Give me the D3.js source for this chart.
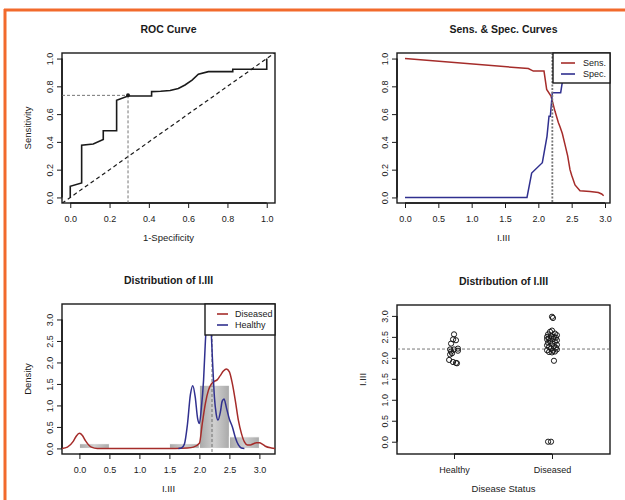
<!DOCTYPE html>
<html>
<head>
<meta charset="utf-8">
<script src="https://cdn.jsdelivr.net/npm/d3@7"></script>
<style>
body { margin: 0; background: #fff; }
svg { display: block; font-family: "Liberation Sans", Arial, sans-serif; }
</style>
</head>
<body>
<div id="chart"></div>
<script>
// ---- data ----
var rocFpr = [0, 0, 0.058, 0.058, 0.117, 0.168, 0.168, 0.236, 0.236, 0.294, 0.414, 0.414, 0.46, 0.508, 0.55, 0.584, 0.62, 0.652, 0.703, 0.827, 0.827, 1.0, 1.0];
var rocTpr = [0, 0.08, 0.104, 0.376, 0.385, 0.417, 0.48, 0.48, 0.70, 0.73, 0.73, 0.762, 0.765, 0.77, 0.785, 0.81, 0.845, 0.887, 0.906, 0.906, 0.923, 0.923, 1.0];
var cutFpr = 0.294, cutTpr = 0.735;
var cutoff = 2.21;

var sensX = [0, 1.85, 1.925, 2.085, 2.125, 2.19, 2.25, 2.3, 2.325, 2.36, 2.4, 2.44, 2.475, 2.5, 2.55, 2.625, 2.775, 2.9, 2.95, 2.98];
var sensY = [1.0, 0.928, 0.91, 0.91, 0.778, 0.73, 0.62, 0.54, 0.509, 0.46, 0.38, 0.3, 0.2, 0.16, 0.09, 0.048, 0.043, 0.036, 0.025, 0.012];
var specX = [0, 1.83, 1.9, 2.06, 2.13, 2.16, 2.18, 2.21, 2.335, 2.36, 2.45, 2.6, 2.75, 3.0];
var specY = [0, 0, 0.176, 0.25, 0.44, 0.585, 0.585, 0.754, 0.754, 0.83, 0.88, 0.94, 1.0, 1.0];

var binEdges = [0, 0.5, 1, 1.5, 2, 2.5, 3];
var binDensity = [0.11, 0, 0, 0.11, 1.47, 0.27];

var disDensX = [-0.29, -0.2, -0.1, -0.05, 0, 0.05, 0.1, 0.2, 0.3, 1.6, 1.8, 1.9, 2.0, 2.05, 2.1, 2.15, 2.2, 2.25, 2.3, 2.35, 2.4, 2.45, 2.5, 2.55, 2.6, 2.65, 2.7, 2.75, 2.8, 2.85, 2.9, 2.95, 3.0, 3.05, 3.1, 3.2, 3.26];
var disDensY = [0.0, 0.03, 0.17, 0.29, 0.35, 0.3, 0.18, 0.03, 0.0, 0.0, 0.01, 0.03, 0.12, 0.6, 1.05, 1.35, 1.5, 1.56, 1.6, 1.7, 1.8, 1.85, 1.78, 1.5, 1.1, 0.65, 0.35, 0.15, 0.08, 0.08, 0.11, 0.13, 0.13, 0.1, 0.05, 0.01, 0.0];
var healDensX = [1.65, 1.7, 1.75, 1.8, 1.85, 1.89, 1.93, 1.97, 2.0, 2.03, 2.07, 2.1, 2.13, 2.16, 2.19, 2.22, 2.25, 2.28, 2.31, 2.35, 2.38, 2.41, 2.45, 2.5, 2.55, 2.6, 2.65, 2.7, 2.75];
var healDensY = [0, 0.01, 0.1, 0.55, 1.25, 1.46, 1.2, 0.7, 0.58, 0.9, 1.6, 2.5, 3.1, 3.3, 2.9, 2.0, 1.2, 0.8, 0.66, 0.85, 1.1, 1.15, 0.95, 0.68, 0.5, 0.25, 0.08, 0.01, 0];

var groups = ["Healthy", "Diseased"];
var healthyVals = [2.56, 2.44, 2.42, 2.34, 2.22, 2.2, 2.2, 2.17, 2.15, 2.11, 2.08, 1.95, 1.9, 1.88, 1.87];
var healthyJit = [0.0, -0.01, 0.02, -0.03, 0.04, -0.04, 0.0, 0.04, -0.03, -0.02, -0.04, -0.05, -0.01, 0.02, 0.03];
var diseasedVals = [2.98, 2.95, 2.65, 2.62, 2.58, 2.56, 2.54, 2.52, 2.5, 2.5, 2.48, 2.47, 2.45, 2.44, 2.42, 2.4, 2.38, 2.36, 2.34, 2.31, 2.3, 2.28, 2.26, 2.24, 2.22, 2.2, 2.18, 2.17, 2.15, 2.14, 2.13, 1.93, 0.0, 0.0];
var diseasedJit = [0.0, 0.01, 0.0, -0.02, 0.03, -0.04, 0.05, -0.01, -0.05, 0.02, 0.04, -0.03, 0.01, -0.05, 0.05, -0.02, 0.03, -0.04, 0.0, 0.05, -0.05, 0.02, -0.03, 0.04, -0.01, 0.05, -0.05, 0.01, 0.03, -0.03, 0.0, 0.02, -0.04, -0.01];

var ticksProb = [0, 0.2, 0.4, 0.6, 0.8, 1.0];
var ticksVal = [0, 0.5, 1, 1.5, 2, 2.5, 3];

var red = "#a52c2a", blue = "#30308f", ink = "#1a1a1a";

var svg = d3.select("#chart").append("svg")
    .attr("width", 625)
    .attr("height", 500);

// orange frame
svg.append("line").attr("x1", 4).attr("x2", 625).attr("y1", 10).attr("y2", 10)
    .attr("stroke", "#f26a2c").attr("stroke-width", 3);
svg.append("line").attr("x1", 5).attr("x2", 5).attr("y1", 9).attr("y2", 500)
    .attr("stroke", "#f26a2c").attr("stroke-width", 3);

var fmt1 = d3.format(".1f");

// base-R style frame, returns scales
function panel(id, box, xDom, yDom, xTicks, yTicks, xFmt, title, xLab, yLab) {
    var x = d3.scaleLinear().domain(xDom).range([box.l, box.r]);
    var y = d3.scaleLinear().domain(yDom).range([box.b, box.t]);
    var g = svg.append("g");

    svg.append("clipPath").attr("id", id)
        .append("rect").attr("x", box.l).attr("y", box.t)
        .attr("width", box.r - box.l).attr("height", box.b - box.t);

    var xa = g.append("g").attr("transform", "translate(0," + box.b + ")")
        .call(d3.axisBottom(x).tickValues(xTicks).tickFormat(xFmt).tickSize(5).tickPadding(7.5));
    xa.select(".domain").remove();
    xa.append("line").attr("x1", x(xTicks[0])).attr("x2", x(xTicks[xTicks.length - 1]))
        .attr("stroke", ink).attr("stroke-width", 1.6);

    var ya = g.append("g").attr("transform", "translate(" + box.l + ",0)")
        .call(d3.axisLeft(y).tickValues(yTicks).tickFormat(fmt1).tickSize(5));
    ya.select(".domain").remove();
    ya.append("line").attr("y1", y(yTicks[0])).attr("y2", y(yTicks[yTicks.length - 1]))
        .attr("stroke", ink).attr("stroke-width", 1.6);
    ya.selectAll(".tick text")
        .attr("transform", "rotate(-90)")
        .attr("x", 0).attr("y", -9).attr("dy", 0)
        .style("text-anchor", "middle");

    g.selectAll(".tick line").attr("stroke", ink).attr("stroke-width", 1);
    g.selectAll(".tick text").attr("fill", ink).style("font-size", "9px")
        .style("font-family", "Liberation Sans, Arial, sans-serif");

    g.append("rect").attr("x", box.l).attr("y", box.t)
        .attr("width", box.r - box.l).attr("height", box.b - box.t)
        .attr("fill", "none").attr("stroke", ink).attr("stroke-width", 1.4);

    g.append("text").attr("x", (box.l + box.r) / 2).attr("y", box.t - 20)
        .attr("text-anchor", "middle").style("font-size", "10.5px").style("font-weight", "bold")
        .attr("fill", ink).text(title);
    g.append("text").attr("x", (box.l + box.r) / 2).attr("y", box.b + 38)
        .attr("text-anchor", "middle").style("font-size", "9.5px")
        .attr("fill", ink).text(xLab);
    g.append("text")
        .attr("transform", "translate(" + (box.l - 31) + "," + ((box.t + box.b) / 2) + ") rotate(-90)")
        .attr("text-anchor", "middle").style("font-size", "9.5px")
        .attr("fill", ink).text(yLab);

    return { x: x, y: y, box: box, clip: "url(#" + id + ")" };
}

// legend box: seg = [line start, line end, text start] offsets from left edge
function legend(box, seg, labels, colors) {
    var lg = svg.append("g");
    lg.append("rect").attr("x", box.l).attr("y", box.t)
        .attr("width", box.r - box.l).attr("height", box.b - box.t)
        .attr("fill", "#fff").attr("stroke", ink).attr("stroke-width", 1.4);
    labels.forEach(function (lab, i) {
        var yy = box.t + 10 + i * 11;
        lg.append("line").attr("x1", box.l + seg[0]).attr("x2", box.l + seg[1])
            .attr("y1", yy).attr("y2", yy)
            .attr("stroke", colors[i]).attr("stroke-width", 1.6);
        lg.append("text").attr("x", box.l + seg[2]).attr("y", yy + 3.3)
            .style("font-size", "9px").attr("fill", ink).text(lab);
    });
}

// ---- 1: ROC curve ----
var p1 = panel("c1", { l: 62, r: 275, t: 53, b: 203 }, [-0.042, 1.042], [-0.04, 1.04],
    ticksProb, ticksProb, fmt1, "ROC Curve", "1-Specificity", "Sensitivity");
var c1 = svg.append("g").attr("clip-path", p1.clip);
c1.append("line")
    .attr("x1", p1.x(-0.1)).attr("y1", p1.y(-0.1)).attr("x2", p1.x(1.1)).attr("y2", p1.y(1.1))
    .attr("stroke", ink).attr("stroke-width", 1.2).attr("stroke-dasharray", "4,3");
c1.append("line")
    .attr("x1", p1.box.l).attr("x2", p1.x(cutFpr)).attr("y1", p1.y(cutTpr)).attr("y2", p1.y(cutTpr))
    .attr("stroke", "#666").attr("stroke-width", 0.9).attr("stroke-dasharray", "3,2");
c1.append("line")
    .attr("x1", p1.x(cutFpr)).attr("x2", p1.x(cutFpr)).attr("y1", p1.y(cutTpr)).attr("y2", p1.box.b)
    .attr("stroke", "#666").attr("stroke-width", 0.9).attr("stroke-dasharray", "3,2");
c1.append("path")
    .datum(d3.range(rocFpr.length))
    .attr("fill", "none").attr("stroke", ink).attr("stroke-width", 1.6)
    .attr("d", d3.line().x(function (i) { return p1.x(rocFpr[i]); }).y(function (i) { return p1.y(rocTpr[i]); }));
c1.append("circle").attr("cx", p1.x(cutFpr)).attr("cy", p1.y(cutTpr)).attr("r", 2)
    .attr("fill", ink);

// ---- 2: sensitivity & specificity ----
var p2 = panel("c2", { l: 397, r: 610, t: 53, b: 203 }, [-0.12, 3.075], [-0.04, 1.04],
    ticksVal, ticksProb, fmt1, "Sens. & Spec. Curves", "I.III", "");
var c2 = svg.append("g").attr("clip-path", p2.clip);
c2.append("path")
    .datum(d3.range(sensX.length))
    .attr("fill", "none").attr("stroke", red).attr("stroke-width", 1.5)
    .attr("d", d3.line().x(function (i) { return p2.x(sensX[i]); }).y(function (i) { return p2.y(sensY[i]); }));
c2.append("path")
    .datum(d3.range(specX.length))
    .attr("fill", "none").attr("stroke", blue).attr("stroke-width", 1.5)
    .attr("d", d3.line().x(function (i) { return p2.x(specX[i]); }).y(function (i) { return p2.y(specY[i]); }));
c2.append("line")
    .attr("x1", p2.x(cutoff)).attr("x2", p2.x(cutoff)).attr("y1", p2.box.t).attr("y2", p2.box.b)
    .attr("stroke", "#777").attr("stroke-width", 1.8).attr("stroke-dasharray", "2,1.5");
legend({ l: 553, r: 610, t: 53, b: 83 }, [8, 22, 30], ["Sens.", "Spec."], [red, blue]);

// ---- 3: density ----
var p3 = panel("c3", { l: 62, r: 275, t: 304, b: 454 }, [-0.29, 3.26], [-0.13, 3.36],
    ticksVal, ticksVal, fmt1, "Distribution of I.III", "I.III", "Density");
var c3 = svg.append("g").attr("clip-path", p3.clip);
var grad = svg.append("defs").append("linearGradient").attr("id", "bargrad")
    .attr("x1", 0).attr("x2", 1).attr("y1", 0).attr("y2", 0);
grad.append("stop").attr("offset", "0%").attr("stop-color", "#a9a9a9");
grad.append("stop").attr("offset", "50%").attr("stop-color", "#cfcfcf");
grad.append("stop").attr("offset", "100%").attr("stop-color", "#a9a9a9");
c3.selectAll(".bin")
    .data(d3.range(binDensity.length).filter(function (i) { return binDensity[i] > 0; }))
    .enter().append("rect")
    .attr("class", "bin")
    .attr("x", function (i) { return p3.x(binEdges[i]); })
    .attr("width", function (i) { return p3.x(binEdges[i + 1]) - p3.x(binEdges[i]); })
    .attr("y", function (i) { return p3.y(binDensity[i]); })
    .attr("height", function (i) { return p3.y(0) - p3.y(binDensity[i]); })
    .attr("fill", "url(#bargrad)").attr("stroke", "#fff").attr("stroke-width", 1);
c3.append("line")
    .attr("x1", p3.x(cutoff)).attr("x2", p3.x(cutoff)).attr("y1", p3.box.t).attr("y2", p3.box.b)
    .attr("stroke", "#666").attr("stroke-width", 0.9).attr("stroke-dasharray", "3,2");
var dens = d3.line().curve(d3.curveMonotoneX);
c3.append("path")
    .datum(disDensX.map(function (v, i) { return [p3.x(v), p3.y(disDensY[i])]; }))
    .attr("fill", "none").attr("stroke", red).attr("stroke-width", 1.5).attr("d", dens);
c3.append("path")
    .datum(healDensX.map(function (v, i) { return [p3.x(v), p3.y(healDensY[i])]; }))
    .attr("fill", "none").attr("stroke", blue).attr("stroke-width", 1.5).attr("d", dens);
legend({ l: 205, r: 275, t: 304, b: 335 }, [12, 23, 30], ["Diseased", "Healthy"], [red, blue]);

// ---- 4: strip chart ----
var p4 = panel("c4", { l: 397, r: 610, t: 305, b: 454 }, [0.418, 2.592], [-0.293, 3.26],
    [1, 2], ticksVal, function (d) { return groups[d - 1]; }, "Distribution of I.III", "Disease Status", "I.III");
var c4 = svg.append("g").attr("clip-path", p4.clip);
c4.append("line")
    .attr("x1", p4.box.l).attr("x2", p4.box.r).attr("y1", p4.y(cutoff)).attr("y2", p4.y(cutoff))
    .attr("stroke", "#666").attr("stroke-width", 0.9).attr("stroke-dasharray", "3,2");
c4.selectAll(".hpt")
    .data(healthyVals)
    .enter().append("circle").attr("class", "hpt")
    .attr("cx", function (d, i) { return p4.x(1 + healthyJit[i]); })
    .attr("cy", function (d) { return p4.y(d); })
    .attr("r", 2.6).attr("fill", "none").attr("stroke", ink).attr("stroke-width", 1);
c4.selectAll(".dpt")
    .data(diseasedVals)
    .enter().append("circle").attr("class", "dpt")
    .attr("cx", function (d, i) { return p4.x(2 + diseasedJit[i]); })
    .attr("cy", function (d) { return p4.y(d); })
    .attr("r", 2.6).attr("fill", "none").attr("stroke", ink).attr("stroke-width", 1);
</script>
</body>
</html>
